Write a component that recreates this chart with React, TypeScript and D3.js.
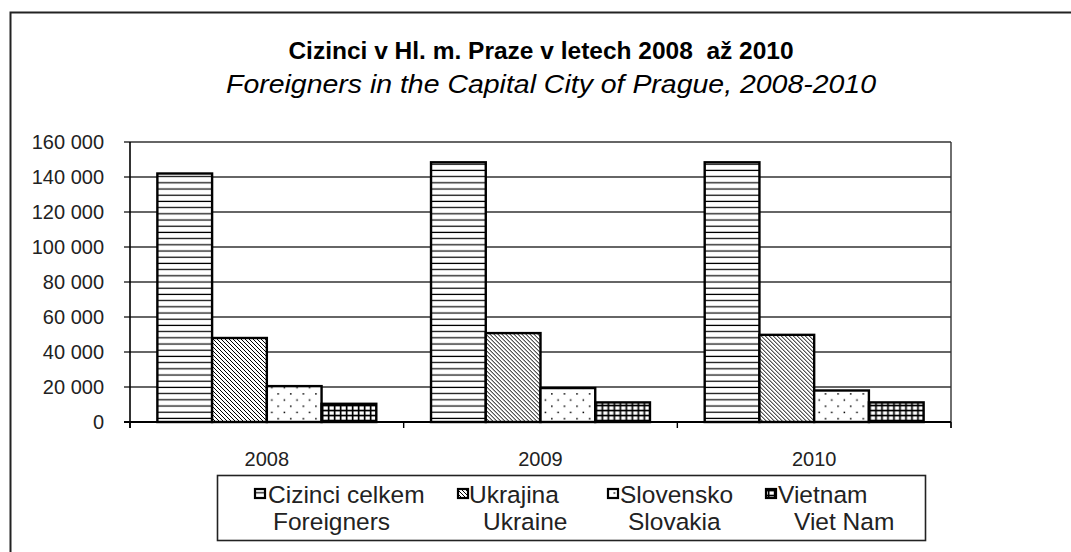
import React from "react";
import * as d3 from "d3";

const years = ["2008", "2009", "2010"];
const seriesKeys = ["foreigners", "ukraine", "slovakia", "vietnam"];
const seriesCz = ["Cizinci celkem", "Ukrajina", "Slovensko", "Vietnam"];
const seriesEn = ["Foreigners", "Ukraine", "Slovakia", "Viet Nam"];
const foreigners = [142000, 148400, 148400];
const ukraine = [48000, 50800, 49800];
const slovakia = [20500, 19400, 18000];
const vietnam = [10400, 11200, 11200];
const yTicks = [0, 20000, 40000, 60000, 80000, 100000, 120000, 140000, 160000];
const titleCz = "Cizinci v Hl. m. Praze v letech 2008  až 2010";
const titleEn = "Foreigners in the Capital City of Prague, 2008-2010";

const values = [foreigners, ukraine, slovakia, vietnam];
const FONT = "'Liberation Sans', Arial, sans-serif";

export default function App() {
  const W = 1071, H = 552;
  const left = 130, right = 951, top = 142, bottom = 422;
  const x0 = d3.scaleBand<string>().domain(years).range([left, right]).paddingInner(0).paddingOuter(0);
  const x1 = d3.scaleBand<string>().domain(seriesKeys).range([0, x0.bandwidth()]).paddingInner(0).paddingOuter(0.5);
  const y = d3.scaleLinear().domain([0, 160000]).range([bottom, top]);
  const fmt = (v: number) => d3.format(",")(v).replace(/,/g, " ");
  const fills = ["url(#pH)", "url(#pD)", "url(#pDots)", "url(#pGrid)"];
  const catEdges = [...years.map((c) => x0(c)!), right];

  const legendMarkerX = [255, 458, 608, 766];
  const legendTextX = [268, 469, 620, 778];
  const legendText2X = [273, 483, 628, 794];

  return (
    <svg width={W} height={H} style={{ position: "absolute", left: 0, top: 0, background: "#fff" }}>
      <defs>
        <pattern id="pH" patternUnits="userSpaceOnUse" width={10} height={6.2}>
          <rect width={10} height={6.2} fill="#fff" />
          <line x1={0} x2={10} y1={3} y2={3} stroke="#000" strokeWidth={1.2} />
        </pattern>
        <pattern id="pD" patternUnits="userSpaceOnUse" width={4} height={4}>
          <rect width={4} height={4} fill="#fff" />
          <path d="M-1,-1 L5,5 M-1,3 L1,5 M3,-1 L5,1" stroke="#000" strokeWidth={1} />
        </pattern>
        <pattern id="pDots" patternUnits="userSpaceOnUse" width={12.6} height={12.4}>
          <rect width={12.6} height={12.4} fill="#fff" />
          <rect x={2.5} y={2.5} width={1.5} height={1.5} fill="#000" />
          <rect x={8.8} y={8.7} width={1.5} height={1.5} fill="#000" />
        </pattern>
        <pattern id="pGrid" patternUnits="userSpaceOnUse" width={6} height={5}>
          <rect width={6} height={5} fill="#000" />
          <rect x={1.5} y={1.4} width={4.3} height={3.3} fill="#fff" />
        </pattern>
      </defs>
      <rect x={0} y={0} width={W} height={H} fill="#fff" />
      <rect x={10.5} y={12.5} width={1200} height={700} fill="none" stroke="#222" strokeWidth={2} />

      <text x={541} y={59} textAnchor="middle" fontFamily={FONT} fontWeight="bold" fontSize={24.5} fill="#000" style={{ whiteSpace: "pre" }}>
        {titleCz}
      </text>
      <text x={551} y={93} textAnchor="middle" fontFamily={FONT} fontStyle="italic" fontSize={26} fill="#000"
        textLength={650} lengthAdjust="spacingAndGlyphs">
        {titleEn}
      </text>

      {yTicks.map((t) => (
        <g key={t}>
          <line x1={left - 6} x2={right} y1={y(t)} y2={y(t)} stroke="#333" strokeWidth={1.4} />
          <text x={104} y={y(t) + 7} textAnchor="end" fontFamily={FONT} fontSize={20} fill="#222">
            {fmt(t)}
          </text>
        </g>
      ))}
      <line x1={right} x2={right} y1={top} y2={bottom + 6} stroke="#333" strokeWidth={1.4} />
      <line x1={left} x2={left} y1={top} y2={bottom + 6} stroke="#000" strokeWidth={1.6} />
      <line x1={left - 6} x2={right} y1={bottom} y2={bottom} stroke="#000" strokeWidth={2} />
      {catEdges.map((e, i) => (
        <line key={i} x1={e} x2={e} y1={bottom} y2={bottom + 6} stroke="#000" strokeWidth={1.4} />
      ))}

      {years.map((yr, ci) => (
        <g key={yr} transform={`translate(${x0(yr)},0)`}>
          {seriesKeys.map((s, si) => (
            <rect
              key={s}
              x={x1(s)}
              y={y(values[si][ci])}
              width={x1.bandwidth()}
              height={bottom - y(values[si][ci])}
              fill={fills[si]}
              stroke="#000"
              strokeWidth={2.4}
            />
          ))}
          <text x={x0.bandwidth() / 2} y={466} textAnchor="middle" fontFamily={FONT} fontSize={20} fill="#222">
            {yr}
          </text>
        </g>
      ))}

      <rect x={217.5} y={475.5} width={708} height={65} fill="#fff" stroke="#222" strokeWidth={1.6} />
      {seriesKeys.map((s, i) => (
        <g key={s}>
          <rect x={legendMarkerX[i]} y={489} width={10} height={9} fill={fills[i]} stroke="#000" strokeWidth={2.2} />
          <text x={legendTextX[i]} y={503} fontFamily={FONT} fontSize={24.5} fill="#222">
            {seriesCz[i]}
          </text>
          <text x={legendText2X[i]} y={530} fontFamily={FONT} fontSize={24.5} fill="#222">
            {seriesEn[i]}
          </text>
        </g>
      ))}
    </svg>
  );
}
